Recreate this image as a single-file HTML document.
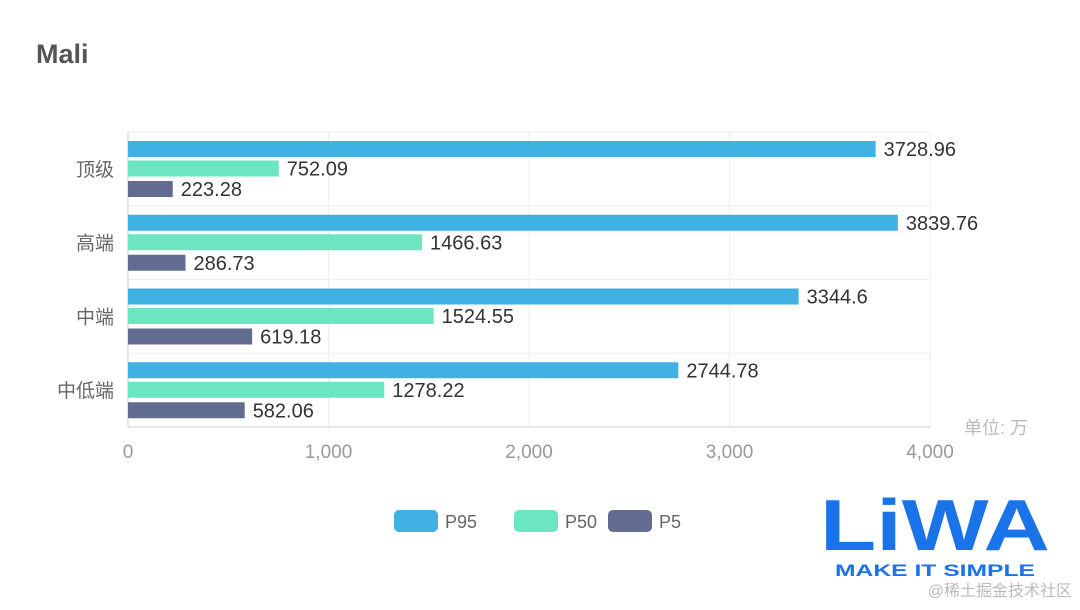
<!DOCTYPE html>
<html><head><meta charset="utf-8"><style>
body{margin:0;background:#fff;width:1080px;height:605px;overflow:hidden;font-family:"Liberation Sans","Noto Sans CJK SC",sans-serif}
</style></head><body>
<svg id="c" width="1080" height="605" xmlns="http://www.w3.org/2000/svg">
<text x="36" y="63" font-size="27" font-weight="bold" fill="#555">Mali</text>
<text x="1028" y="434" font-size="18" fill="#bbb" text-anchor="end">单位: 万</text>
<g>
<text x="820" y="550" font-size="72" font-weight="bold" fill="#1a73e8" textLength="230" lengthAdjust="spacingAndGlyphs">LiWA</text>
<text x="835" y="576" font-size="17" font-weight="bold" fill="#1a73e8" textLength="200" lengthAdjust="spacingAndGlyphs">MAKE IT SIMPLE</text>
<text x="1072" y="596" font-size="16" fill="#bbb" text-anchor="end">@稀土掘金技术社区</text>
</g>
</svg>
<script>
const categories=['顶级','高端','中端','中低端'];
const p95=[3728.96,3839.76,3344.6,2744.78];
const p50=[752.09,1466.63,1524.55,1278.22];
const p5=[223.28,286.73,619.18,582.06];
const ticks=[0,1000,2000,3000,4000];
const tickLabels=['0','1,000','2,000','3,000','4,000'];
const seriesNames=['P95','P50','P5'];
const colors=['#3fb1e3','#6be6c1','#626c91'];
const NS='http://www.w3.org/2000/svg';
const svg=document.getElementById('c');
const x0=128,x1=930,y0=132,y1=427;
const xs=v=>x0+(v/4000)*(x1-x0);
const band=(y1-y0)/categories.length;
function mk(t,a,txt){const e=document.createElementNS(NS,t);for(const k in a)e.setAttribute(k,a[k]);if(txt!==undefined)e.textContent=txt;svg.appendChild(e);return e;}
ticks.forEach((t,i)=>{
 const g=mk('line',{x1:xs(t),x2:xs(t),y1:y0,y2:y1,stroke:'#eee','stroke-width':1});
 
 
 const l=mk('text',{x:xs(t),y:458,'font-size':19,fill:'#999','text-anchor':'middle'},tickLabels[i]);
 
 
});
for(let i=0;i<=categories.length;i++){
 const h=mk('line',{x1:x0,x2:x1,y1:y0+i*band,y2:y0+i*band,stroke:i==categories.length?'#ccc':'#eee','stroke-width':1});
 
 
}
const ax=mk('line',{x1:x0,x2:x0,y1:y0,y2:y1,stroke:'#ccc','stroke-width':1});


const series=[p95,p50,p5];
const offs=[9,28.5,49];
categories.forEach((c,i)=>{
 const by=y0+i*band;
 const cl=mk('text',{x:114,y:by+band/2+7,'font-size':19,fill:'#666','text-anchor':'end'},c);
 
 
 series.forEach((s,j)=>{
  const r=mk('rect',{x:x0,y:by+offs[j],width:xs(s[i])-x0,height:16,fill:colors[j]});
  
  
  const v=mk('text',{x:xs(s[i])+8,y:by+offs[j]+15,'font-size':20,fill:'#333'},String(s[i]));
  
  
 });
});
const lx=[394,514,608];
seriesNames.forEach((n,j)=>{
 const r=mk('rect',{x:lx[j],y:510,width:44,height:22,rx:5,fill:colors[j]});
 
 
 const t=mk('text',{x:lx[j]+51,y:528,'font-size':18,fill:'#666'},n);
 
 
});
</script>
</body></html>
